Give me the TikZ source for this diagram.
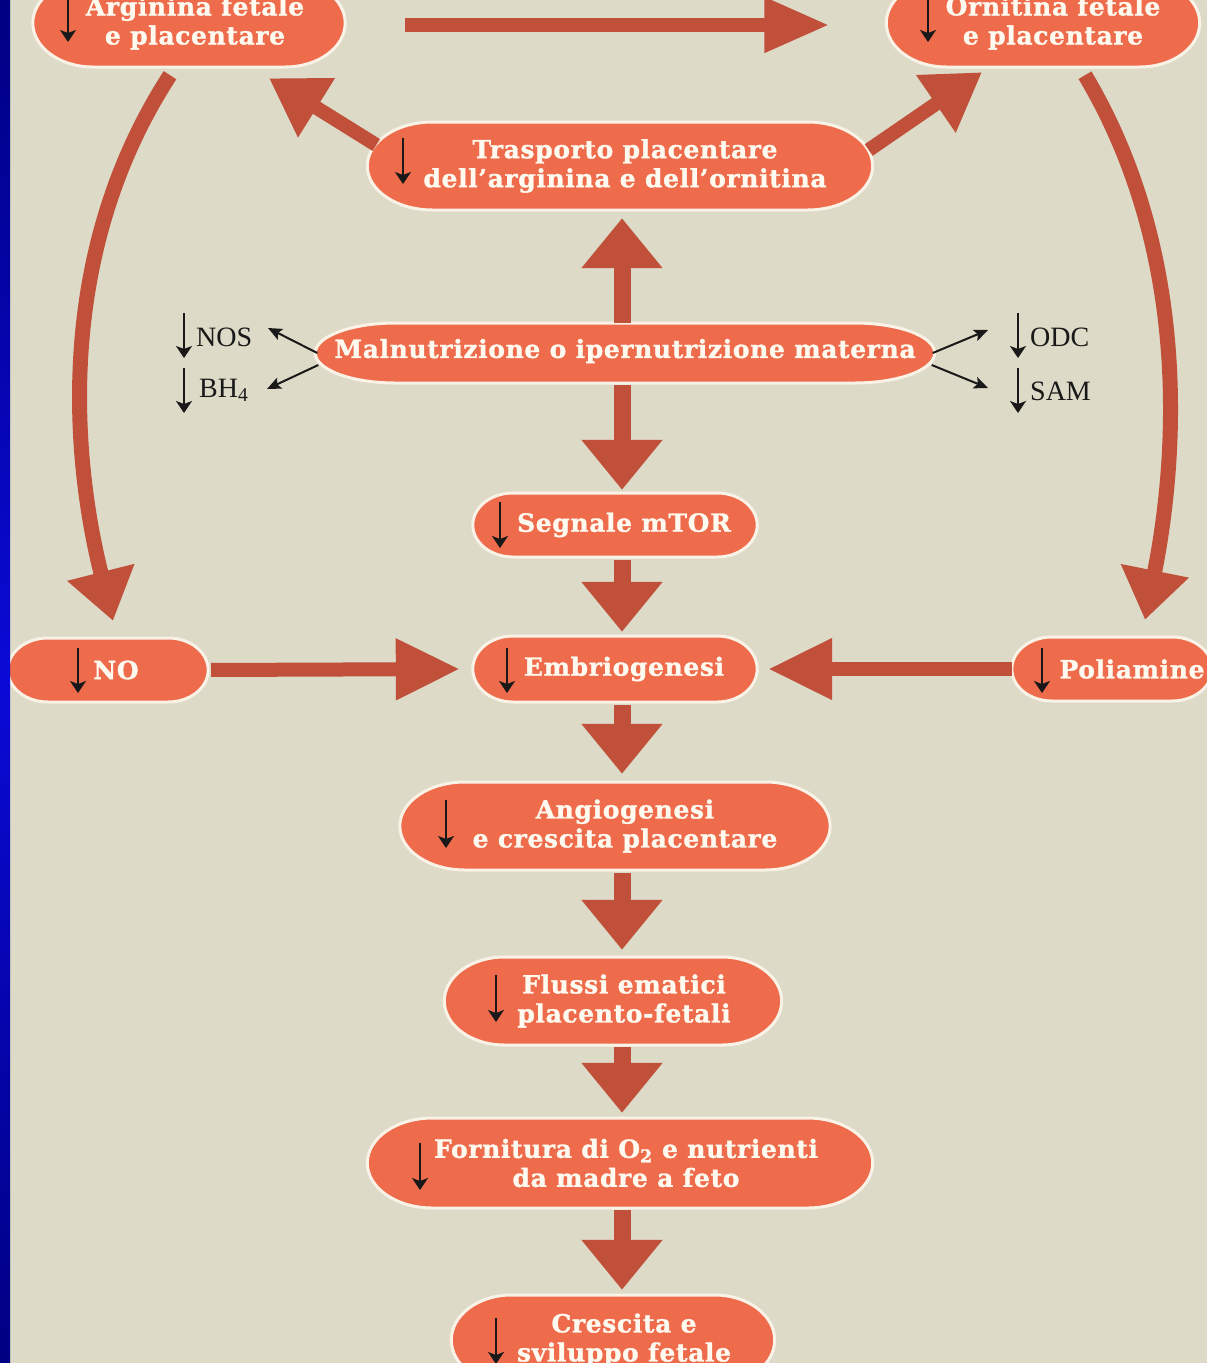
\documentclass[tikz,border=0pt]{standalone}
\usepackage{fontspec}
\setmainfont{Liberation Serif}
\newfontfamily\boldserif{DejaVu Serif}[BoldFeatures={FakeBold=1.2,LetterSpace=2.5}]
\usetikzlibrary{arrows.meta,calc,backgrounds}
\definecolor{bgc}{RGB}{221,218,199}
\definecolor{bluetop}{RGB}{0,0,130}
\definecolor{bluemid}{RGB}{10,10,215}
\definecolor{pillc}{RGB}{238,108,76}
\definecolor{rimc}{RGB}{250,242,230}
\definecolor{arrc}{RGB}{192,80,58}
\definecolor{inkc}{RGB}{25,25,25}
\definecolor{txtc}{RGB}{255,250,240}
\newcommand\pill[3]{%
  \path[pillshape] ([xshift=#3pt,yshift=#2pt]#1.west) -- ([xshift=-#3pt,yshift=#2pt]#1.east)
    arc[start angle=90,end angle=-90,x radius=#3pt,y radius=#2pt]
    -- ([xshift=#3pt,yshift=-#2pt]#1.west)
    arc[start angle=270,end angle=90,x radius=#3pt,y radius=#2pt] -- cycle;}
\begin{document}
\begin{tikzpicture}[x=1pt,y=-1pt,
  box/.style={rectangle,inner sep=0pt,draw=none},
  txt/.style={text=txtc,font=\boldserif\bfseries\fontsize{25}{29}\selectfont,align=center,inner sep=0pt},
  pillshape/.style={fill=pillc,draw=rimc,line width=3pt},
  lab/.style={text=inkc,font=\fontsize{28}{32}\selectfont,inner sep=0pt,anchor=west},
  dn/.style={draw=inkc,line width=2pt,-{Stealth[length=12pt,width=16pt,inset=3pt]}},
  thinarr/.style={draw=inkc,line width=2pt,-{Stealth[length=14pt,width=12pt,inset=3pt]}},
  fatv/.style={draw=arrc,line width=17pt,-{Triangle[length=50pt,width=78pt]}},
  fath/.style={draw=arrc,line width=14pt,-{Triangle[length=64pt,width=58pt]}},
  fatd/.style={draw=arrc,line width=14pt,-{Triangle[length=56pt,width=66pt]}},
  fatc/.style={draw=arrc,line width=15pt,-{Triangle[length=50pt,width=66pt]}}]
\useasboundingbox (0,0) rectangle (1207,1363);
\clip (0,0) rectangle (1207,1363);

% nodes
\node[box,minimum width=312pt,minimum height=88pt,label={[txt,xshift=6pt]center:{Arginina fetale\\e placentare}}] (arg) at (189,23) {};
\node[box,minimum width=313pt,minimum height=88pt,label={[txt,xshift=10pt]center:{Ornitina fetale\\e placentare}}] (orn) at (1043,23) {};
\node[box,minimum width=505pt,minimum height=88pt,label={[txt,xshift=5pt]center:{Trasporto placentare\\dell’arginina e dell’ornitina}}] (tras) at (620,166) {};
\node[box,minimum width=619pt,minimum height=60pt,label={[txt,yshift=2pt]center:{Malnutrizione o ipernutrizione materna}}] (mal) at (625,353) {};
\node[box,minimum width=284pt,minimum height=64pt,label={[txt,xshift=9pt]center:{Segnale mTOR}}] (seg) at (615,525) {};
\node[box,minimum width=200pt,minimum height=64pt,label={[txt,xshift=8pt]center:{NO}}] (no) at (108,670) {};
\node[box,minimum width=284pt,minimum height=66pt,label={[txt,xshift=9pt]center:{Embriogenesi}}] (emb) at (615,669) {};
\node[box,minimum width=200pt,minimum height=64pt,label={[txt,xshift=20pt]center:{Poliamine}}] (pol) at (1112,669) {};
\node[box,minimum width=430pt,minimum height=88pt,label={[txt,xshift=10pt]center:{Angiogenesi\\e crescita placentare}}] (ang) at (615,826) {};
\node[box,minimum width=337pt,minimum height=88pt,label={[txt,xshift=11pt]center:{Flussi ematici\\placento-fetali}}] (flu) at (613,1001) {};
\node[box,minimum width=505pt,minimum height=90pt,label={[txt,xshift=6pt]center:{Fornitura di O\textsubscript{2} e nutrienti\\da madre a feto}}] (forn) at (620,1163) {};
\node[box,minimum width=323pt,minimum height=90pt,label={[txt,xshift=11pt]center:{Crescita e\\sviluppo fetale}}] (cre) at (613,1340) {};

\node[lab] (nos) at (196,337) {NOS};
\node[lab] (bh) at (199,390) {BH\textsubscript{4}};
\node[lab] (odc) at (1030,337) {ODC};
\node[lab] (sam) at (1030,391) {SAM};

\begin{scope}[on background layer]
\clip (0,0) rectangle (1207,1363);
\fill[bgc] (0,0) rectangle (1207,1363);
\pill{arg}{44}{60}
\pill{orn}{44}{60}
\pill{tras}{44}{65}
\pill{mal}{30}{80}
\pill{seg}{32}{40}
\pill{no}{32}{40}
\pill{emb}{33}{40}
\pill{pol}{32}{40}
\pill{ang}{44}{65}
\pill{flu}{44}{60}
\pill{forn}{45}{65}
\pill{cre}{45}{60}
\end{scope}

% down arrows inside nodes
\draw[dn] ($(arg.center)+(-121,-28)$) -- ++(0,47);
\draw[dn] ($(orn.center)+(-115,-28)$) -- ++(0,47);
\draw[dn] ($(tras.center)+(-217,-28)$) -- ++(0,46);
\draw[dn] ($(seg.center)+(-115,-23)$) -- ++(0,46);
\draw[dn] ($(no.center)+(-30,-22)$) -- ++(0,45);
\draw[dn] ($(emb.center)+(-108,-21)$) -- ++(0,45);
\draw[dn] ($(pol.center)+(-70,-21)$) -- ++(0,45);
\draw[dn] ($(ang.center)+(-169,-26)$) -- ++(0,48);
\draw[dn] ($(flu.center)+(-117,-26)$) -- ++(0,47);
\draw[dn] ($(forn.center)+(-200,-20)$) -- ++(0,47);
\draw[dn] ($(cre.center)+(-117,-22)$) -- ++(0,46);
\draw[dn] ($(nos.west)+(-12,-24)$) -- ++(0,45);
\draw[dn] ($(bh.west)+(-15,-22)$) -- ++(0,45);
\draw[dn] ($(odc.west)+(-12,-24)$) -- ++(0,45);
\draw[dn] ($(sam.west)+(-12,-23)$) -- ++(0,45);

% thin connectors
\draw[thinarr] ($(mal.west)+(2,0)$) -- ($(nos.west)+(72,-9)$);
\draw[thinarr] ($(mal.west)+(3,12)$) -- ($(bh.west)+(68,-1)$);
\draw[thinarr] ($(mal.east)+(-2,0)$) -- ($(odc.west)+(-42,-7)$);
\draw[thinarr] ($(mal.east)+(-3,12)$) -- ($(sam.west)+(-42,-3)$);

% big arrows
\coordinate (ax) at (622,0);
\draw[draw=arrc,line width=14pt,-{Triangle[length=65pt,width=52pt]},shorten <=60pt,shorten >=57pt] ([yshift=-2pt]arg.east) -- ([yshift=-2pt]orn.west);
\draw[fatd] ($(tras.west)+(9,-21)$) -- ($(arg.south)+(80,11)$);
\draw[fatd] ($(tras.east)+(-4,-16)$) -- ($(orn.south)+(-61,5)$);
\draw[fatv,shorten >=8pt] (mal.north -| ax) -- (tras.south -| ax);
\draw[fatv,shorten <=2pt,shorten >=3pt] (mal.south -| ax) -- (seg.north -| ax);
\draw[fatv,shorten <=3pt,shorten >=4pt] (seg.south -| ax) -- (emb.north -| ax);
\draw[fatv,shorten <=3pt,shorten >=8pt] (emb.south -| ax) -- (ang.north -| ax);
\draw[fatv,shorten <=3pt,shorten >=7pt] (ang.south -| ax) -- (flu.north -| ax);
\draw[fatv,shorten <=2pt,shorten >=5pt] (flu.south -| ax) -- (forn.north -| ax);
\draw[fatv,shorten <=2pt,shorten >=5pt] (forn.south -| ax) -- (cre.north -| ax);
\draw[fath,shorten <=3pt,shorten >=13pt] (no.east) -- (emb.west);
\draw[fath,shorten >=11pt] (pol.west) -- (emb.east);
\draw[fatc] ($(arg.south)+(-19,8)$) .. controls (50,260) and (75,470) .. ($(no.north)+(5,-17)$);
\draw[fatc] ($(orn.south)+(42,8)$) .. controls (1195,260) and (1175,470) .. ($(pol.north)+(33,-17)$);

% blue strip
\shade[top color=bluetop,bottom color=bluetop,middle color=bluemid] (0,0) rectangle (10,1363);
\end{tikzpicture}
\end{document}
